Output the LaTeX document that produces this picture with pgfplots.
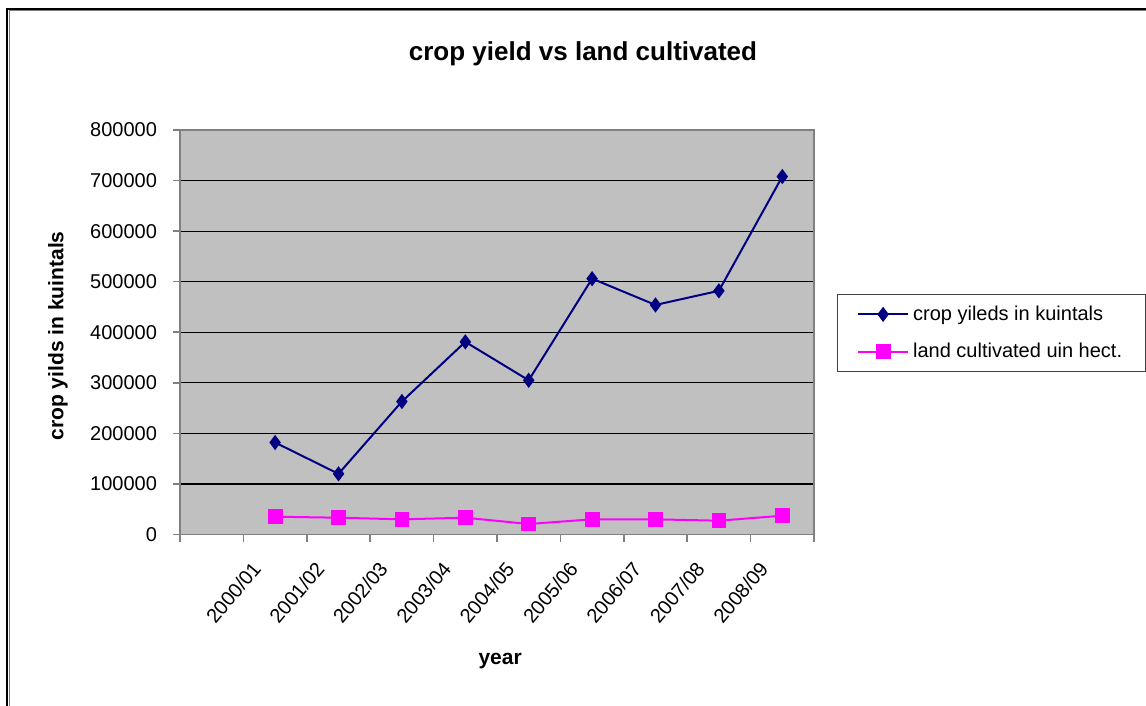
\documentclass[border=0pt]{standalone}
\usepackage{fontspec}
\setmainfont{Liberation Sans}
\usepackage{pgfplots}
\pgfplotsset{compat=1.18}
\definecolor{plotgrey}{HTML}{C0C0C0}
\definecolor{axisgrey}{HTML}{808080}
\definecolor{navyline}{HTML}{000080}
\definecolor{magentaline}{HTML}{FF00FF}

\begin{document}
\begin{tikzpicture}
\useasboundingbox[fill=white] (0,0) rectangle (573pt,-353pt);
% window frame
\draw[black, line width=1pt] (3.5pt,-353pt) -- (3.5pt,-4.5pt) -- (573pt,-4.5pt);
\draw[axisgrey, line width=0.5pt] (4.5pt,-353pt) -- (4.5pt,-5.25pt) -- (573pt,-5.25pt);
\begin{axis}[
  at={(90pt,-267.25pt)}, anchor=south west,
  scale only axis, width=317pt, height=202.25pt,
  xmin=0, xmax=10, ymin=0, ymax=800000,
  axis background/.style={fill=plotgrey},
  axis line style={axisgrey, line width=0.8pt},
  xtick={1.5,2.5,3.5,4.5,5.5,6.5,7.5,8.5,9.5},
  xticklabels={2000/01,2001/02,2002/03,2003/04,2004/05,2005/06,2006/07,2007/08,2008/09},
  minor xtick={0,1,...,10},
  ytick={0,100000,...,800000},
  scaled y ticks=false,
  /pgf/number format/fixed,
  /pgf/number format/1000 sep={},
  /pgf/number format/assume math mode=true,
  ymajorgrids, grid style={black, line width=0.6pt},
  tick align=outside, tick pos=left,
  major tick length=3.5pt, minor tick length=3.5pt,
  tick style={axisgrey, line width=0.8pt},
  major x tick style={draw=none},
  ticklabel style={font=\fontsize{10}{12}\selectfont},
  xticklabel style={xshift=-7pt, yshift=-9pt, rotate=50, anchor=east},
  yticklabel style={xshift=-4.5pt},
  xlabel={year},
  xlabel style={at={(axis description cs:0.505,-0.313)}, anchor=center, font=\fontsize{10.5}{12}\selectfont\bfseries},
  ylabel={crop yilds in kuintals},
  ylabel style={at={(axis description cs:-0.1924,0.491)}, anchor=center, font=\fontsize{10.5}{12}\selectfont\bfseries},
  title={crop yield vs land cultivated},
  title style={at={(axis description cs:0.6356,1.158)}, anchor=center, font=\fontsize{13}{15}\selectfont\bfseries},
  legend style={at={(axis description cs:1.0363,0.5946)}, anchor=north west,
    draw=black!75, line width=0.6pt, fill=white,
    font=\fontsize{10}{12}\selectfont, inner xsep=9.75pt, inner ysep=3.5pt, row sep=6pt},
  legend cell align=left,
  legend image code/.code={\draw[mark repeat=2, mark phase=2, #1] plot coordinates {(0pt,0pt) (12.5pt,0pt) (25pt,0pt)};},
  clip=false,
]
\addplot[navyline, line width=1pt, mark=diamond*, mark size=3pt, mark options={solid, fill=navyline, draw=navyline}]
  coordinates {(1.5,182000) (2.5,120000) (3.5,263000) (4.5,381000) (5.5,305000)
               (6.5,506000) (7.5,454000) (8.5,482000) (9.5,708000)};
\addlegendentry{crop yileds in kuintals}
\addplot[magentaline, line width=1pt, mark=square*, mark size=3.2pt, mark options={solid, fill=magentaline, draw=magentaline}]
  coordinates {(1.5,35200) (2.5,33200) (3.5,30000) (4.5,33200) (5.5,20800)
               (6.5,30000) (7.5,30000) (8.5,27300) (9.5,37200)};
\addlegendentry{land cultivated uin hect.}
\end{axis}
\end{tikzpicture}
\end{document}
